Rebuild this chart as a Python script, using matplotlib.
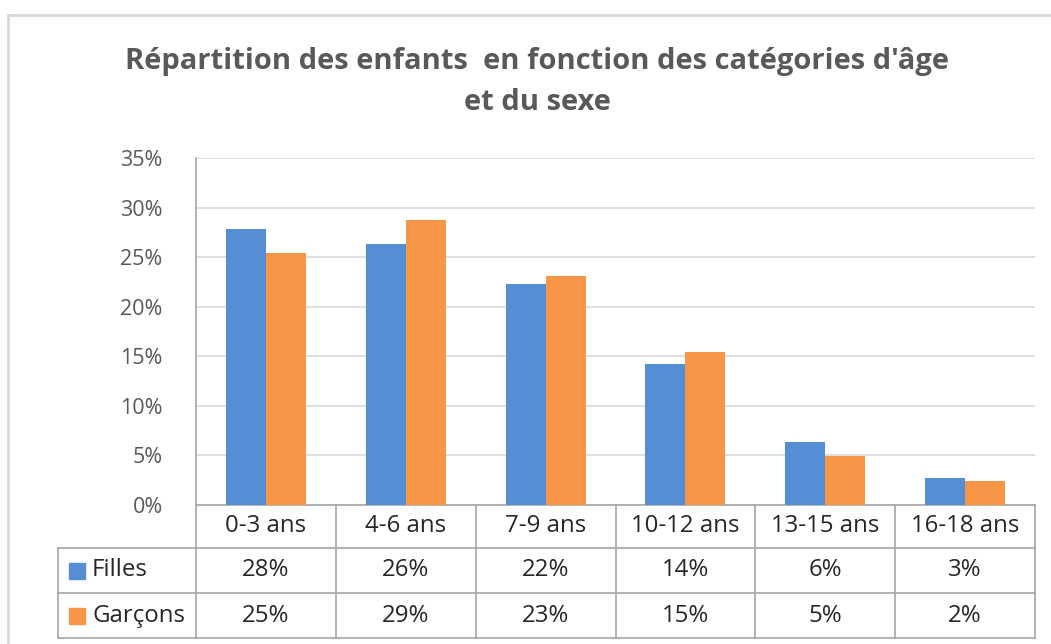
import numpy as np
import matplotlib.pyplot as plt
from matplotlib.patches import Rectangle
from matplotlib.lines import Line2D

categories = ["0-3 ans", "4-6 ans", "7-9 ans", "10-12 ans", "13-15 ans", "16-18 ans"]
filles = [27.8, 26.3, 22.3, 14.2, 6.35, 2.7]
garcons = [25.4, 28.7, 23.1, 15.4, 4.97, 2.4]
filles_lbl = ["28%", "26%", "22%", "14%", "6%", "3%"]
garcons_lbl = ["25%", "29%", "23%", "15%", "5%", "2%"]
yticks = [0, 5, 10, 15, 20, 25, 30, 35]

blue = "#558ED5"
orange = "#F79646"
grid_c = "#D9D9D9"
line_c = "#A6A6A6"
txt_c = "#262626"
fs_tick = 15.5
fs = 17.3

plt.rcParams['font.family'] = ['Open Sans', 'DejaVu Sans']

W, H = 1051, 644
fig = plt.figure(figsize=(W / 100, H / 100), dpi=100)

# plot area in pixels
left, right, top, bottom = 196, 1035, 158, 505
ax = fig.add_axes([left / W, 1 - bottom / H, (right - left) / W, (bottom - top) / H])

x = np.arange(len(categories))
bw = 0.286
ax.bar(x - bw / 2, filles, bw, color=blue, zorder=3)
ax.bar(x + bw / 2, garcons, bw, color=orange, zorder=3)

ax.set_xlim(-0.5, len(categories) - 0.5)
ax.set_ylim(0, 35)
ax.set_yticks(yticks)
ax.set_yticklabels([f"{v}%" for v in yticks], color="#595959", fontsize=fs_tick)
ax.tick_params(axis='y', length=0, pad=24)
ax.set_xticks([])
ax.yaxis.grid(True, color=grid_c, linewidth=1.2, zorder=0)
for s in ["top", "right", "bottom"]:
    ax.spines[s].set_visible(False)
ax.spines["left"].set_color(line_c)
ax.spines["left"].set_linewidth(1.2)

# data table under the chart, in axes coordinates
ph = bottom - top
rows_px = [505, 548, 593, 638]
ry = [(bottom - r) / ph for r in rows_px]
xl = (58 - left) / (right - left)
n = len(categories)
kw = dict(transform=ax.transAxes, clip_on=False, color=line_c, linewidth=1.2)

# horizontal lines
ax.add_line(Line2D([0, 1], [ry[0], ry[0]], **kw))
for r in ry[1:]:
    ax.add_line(Line2D([xl, 1], [r, r], **kw))
# vertical lines
for i in range(n + 1):
    ax.add_line(Line2D([i / n, i / n], [ry[0], ry[3]], **kw))
ax.add_line(Line2D([xl, xl], [ry[1], ry[3]], **kw))

for i, c in enumerate(categories):
    cx = (i + 0.5) / n
    ax.text(cx, (ry[0] + ry[1]) / 2, c, transform=ax.transAxes, ha="center", va="center",
            fontsize=fs, color=txt_c)
    ax.text(cx, (ry[1] + ry[2]) / 2, filles_lbl[i], transform=ax.transAxes, ha="center",
            va="center", fontsize=fs, color=txt_c)
    ax.text(cx, (ry[2] + ry[3]) / 2, garcons_lbl[i], transform=ax.transAxes, ha="center",
            va="center", fontsize=fs, color=txt_c)

# legend keys inside the table
sq_w = 16 / (right - left)
sq_h = 16 / ph
kx = (69 - left) / (right - left)
tx = (92 - left) / (right - left)
for (r0, r1), col, name in [((ry[1], ry[2]), blue, "Filles"), ((ry[2], ry[3]), orange, "Garçons")]:
    cy = (r0 + r1) / 2
    ax.add_patch(Rectangle((kx, cy - sq_h / 2), sq_w, sq_h, transform=ax.transAxes,
                           clip_on=False, color=col))
    ax.text(tx, cy, name, transform=ax.transAxes, ha="left", va="center",
            fontsize=fs, color=txt_c)

# title
fig.text(537 / W, 1 - 62 / H, "Répartition des enfants  en fonction des catégories d'âge",
         ha="center", va="center", fontsize=21, fontweight="bold", color="#595959")
fig.text(537 / W, 1 - 102 / H, "et du sexe",
         ha="center", va="center", fontsize=21, fontweight="bold", color="#595959")

# chart frame
fig.add_artist(Line2D([8 / W, 1], [1 - 15 / H, 1 - 15 / H], transform=fig.transFigure,
                      color=grid_c, linewidth=2))
fig.add_artist(Line2D([8 / W, 8 / W], [1 - 15 / H, 0], transform=fig.transFigure,
                      color=grid_c, linewidth=2))

fig.savefig("out.png", dpi=100)
